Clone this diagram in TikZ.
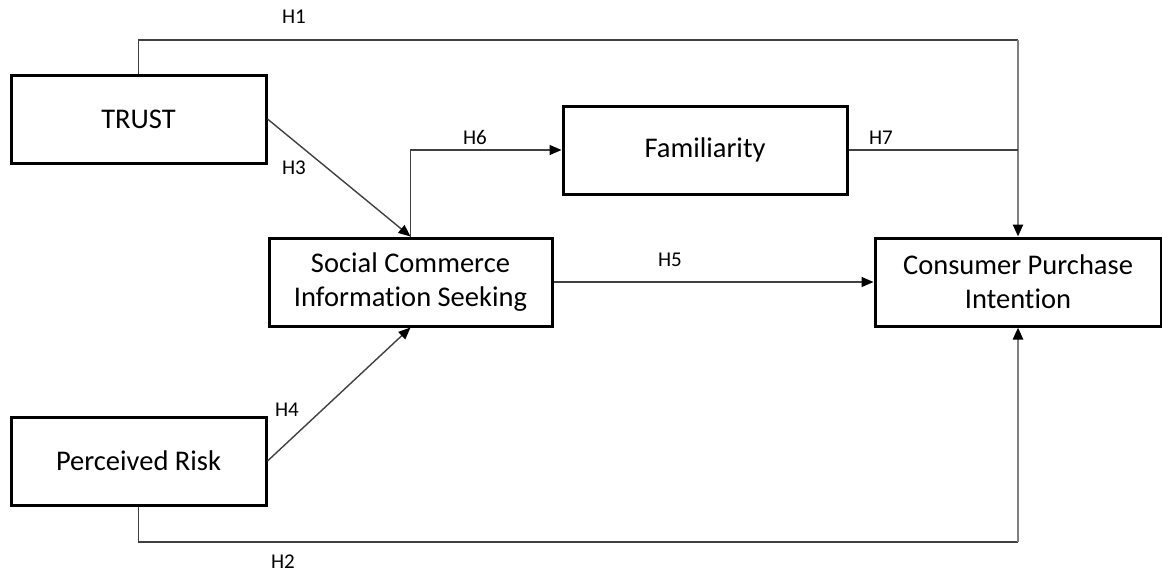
\documentclass[tikz,border=0pt]{standalone}
\usepackage{fontspec}
\setmainfont[Ligatures=NoCommon]{Carlito}
\usetikzlibrary{arrows.meta}
\begin{document}
\begin{tikzpicture}[x=1pt,y=-1pt,
  box/.style={draw=black,line width=3pt,fill=white,minimum height=88pt,align=center,inner sep=0pt,font=\fontsize{28.5}{34}\selectfont},
  conn/.style={draw=black!75,line width=1.4pt},
  vconn/.style={draw=black!50,line width=2.4pt},
  tip/.style={-{Triangle[length=12pt,width=10pt,color=black,fill=black]}},
  lab/.style={inner sep=0pt,font=\fontsize{21}{24}\selectfont}]
\useasboundingbox (0,0) rectangle (1162,574);
\node[box,minimum width=255pt] (trust) at (138.5,119) {TRUST};
\node[box,minimum width=255pt] (pr) at (138.5,461) {Perceived Risk};
\node[box,minimum width=283pt] (scis) at (410.5,282) {Social Commerce\\Information Seeking};
\node[box,minimum width=284pt] (fam) at (705,150) {Familiarity};
\node[box,minimum width=286pt] (cpi) at (1018,282) {Consumer Purchase\\Intention};
\coordinate (h1c) at (1018,40);
\coordinate (h2c) at (1018,542);
\draw[conn] (trust.north) |- (h1c);
\draw[vconn,tip] (h1c) -- (cpi.north);
\draw[conn] (fam.east) -- (fam.east -| h1c);
\draw[conn,tip] (scis.north) |- (fam.west);
\draw[conn,tip] (trust.east) -- (scis.north);
\draw[conn,tip] (pr.east) -- (scis.south);
\draw[conn,tip] (scis.east) -- (cpi.west);
\draw[conn] (pr.south) |- (h2c);
\draw[vconn,tip] (h2c) -- (cpi.south);
\node[lab] (l1) at (294,17) {H1};
\node[lab] (l2) at (283,562) {H2};
\node[lab] (l3) at (294,168) {H3};
\node[lab] (l4) at (287,410) {H4};
\node[lab] (l5) at (670,260) {H5};
\node[lab] (l6) at (475,137) {H6};
\node[lab] (l7) at (881,138) {H7};
\end{tikzpicture}
\end{document}
